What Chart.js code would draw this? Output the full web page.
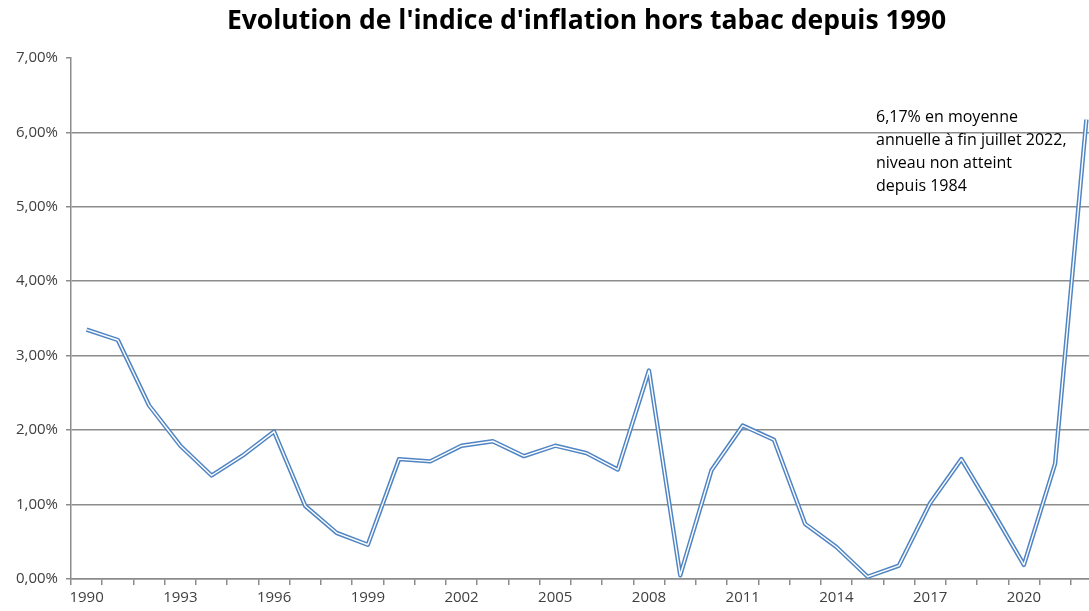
<!DOCTYPE html>
<html>
<head>
<meta charset="utf-8">
<script src="https://cdn.jsdelivr.net/npm/chart.js@4"></script>
<style>
  html, body { margin: 0; padding: 0; background: #fff; overflow: hidden; }
  #wrap { width: 1102px; height: 611px; }
</style>
</head>
<body>
<div id="wrap"><canvas id="inflationChart"></canvas></div>
<script>
const years = [];
for (let y = 1990; y <= 2022; y++) years.push(String(y));

// inflation hors tabac, en %
const inflation = [3.35, 3.21, 2.33, 1.79, 1.39, 1.66, 1.98, 0.98, 0.62, 0.46,
    1.61, 1.58, 1.79, 1.85, 1.65, 1.79, 1.69, 1.47, 2.80, 0.05,
    1.46, 2.06, 1.87, 0.74, 0.43, 0.03, 0.18, 1.02, 1.61, 0.91,
    0.19, 1.55, 6.17];

const noteLines = ['6,17% en moyenne', 'annuelle à fin juillet 2022,', 'niveau non atteint', 'depuis 1984'];

const tickFont = { family: 'Open Sans', size: 15 };
const gray = '#8c8c8c';

// texte d'annotation à droite
const notePlugin = {
    id: 'note',
    afterDatasetsDraw(chart) {
        const ctx = chart.ctx;
        ctx.save();
        ctx.font = '16px "Open Sans"';
        ctx.fillStyle = '#000';
        ctx.textBaseline = 'alphabetic';
        for (let i = 0; i < noteLines.length; i++) {
            ctx.fillText(noteLines[i], 876, 122 + i * 23);
        }
        ctx.restore();
    }
};

new Chart(document.getElementById('inflationChart'), {
    type: 'line',
    data: {
        labels: years,
        datasets: [{
            data: inflation,
            borderColor: '#ffffff',
            borderWidth: 1.4,
            pointRadius: 0,
            tension: 0,
            borderJoinStyle: 'round'
        }, {
            data: inflation,
            borderColor: '#5085c4',
            borderWidth: 4.4,
            pointRadius: 0,
            tension: 0,
            borderJoinStyle: 'round'
        }]
    },
    options: {
        responsive: true,
        maintainAspectRatio: false,
        animation: false,
        layout: { padding: { left: 0, right: 0, top: 0, bottom: 0 } },
        plugins: {
            legend: { display: false },
            tooltip: { enabled: false },
            title: {
                display: true,
                fullSize: false,
                text: "Evolution de l'indice d'inflation hors tabac depuis 1990",
                color: '#000',
                font: { family: 'Open Sans', size: 26.5, weight: 'bold' },
                padding: { top: 6, bottom: 20 }
            }
        },
        scales: {
            x: {
                offset: true,
                afterFit: function (s) { s.height = 32; },
                grid: {
                    offset: true,
                    drawOnChartArea: false,
                    color: gray,
                    tickLength: 6,
                    lineWidth: 1.5
                },
                border: { color: gray, width: 1.5 },
                ticks: {
                    autoSkip: false,
                    maxRotation: 0,
                    color: '#404040',
                    font: tickFont,
                    padding: 4,
                    callback: function (value, index) {
                        return index % 3 === 0 ? this.getLabelForValue(value) : '';
                    }
                }
            },
            y: {
                min: 0,
                max: 7,
                afterFit: function (s) { s.width = 71; },
                grid: {
                    color: function (c) { return c.tick.value === 7 ? 'rgba(0,0,0,0)' : gray; },
                    tickColor: gray,
                    tickLength: 5,
                    lineWidth: 1.5
                },
                border: { color: gray, width: 1.5 },
                ticks: {
                    stepSize: 1,
                    color: '#404040',
                    font: tickFont,
                    padding: 8,
                    callback: function (v) { return v.toFixed(2).replace('.', ',') + '%'; }
                }
            }
        }
    },
    plugins: [notePlugin]
});
</script>
</body>
</html>
